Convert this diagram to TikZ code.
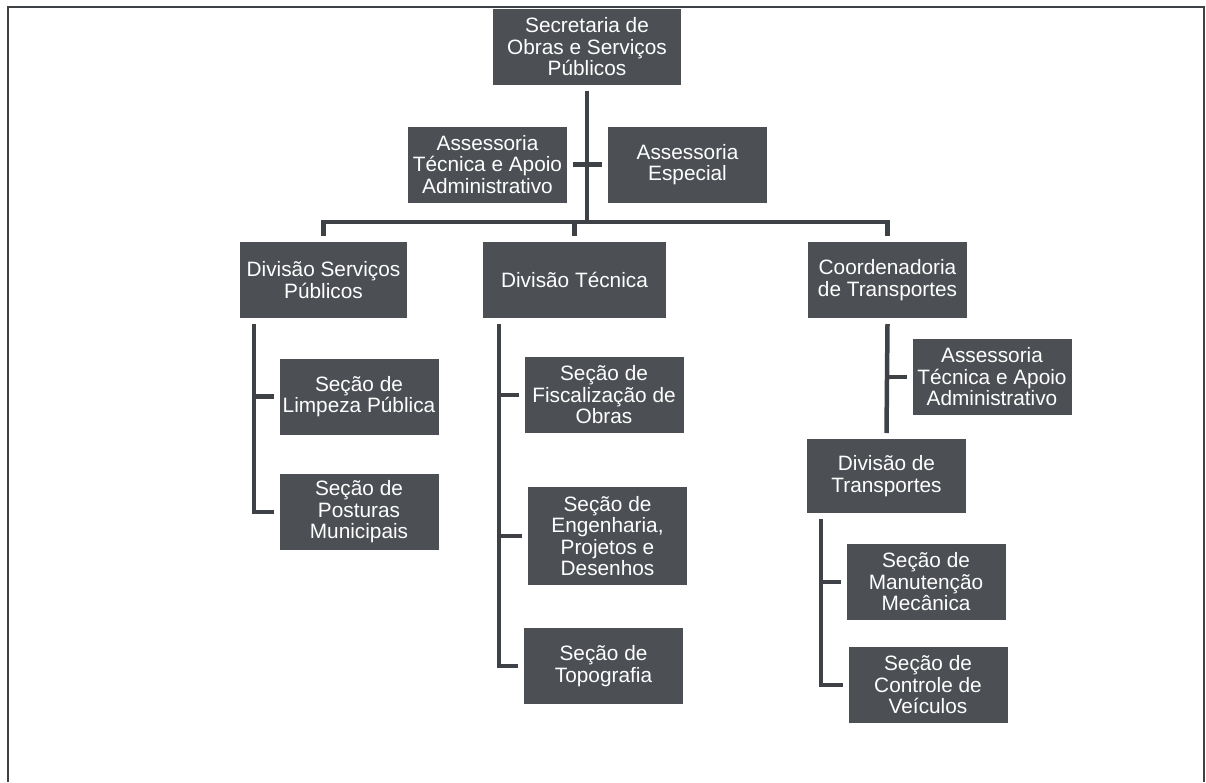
\documentclass[tikz,border=0pt]{standalone}
\usepackage{fontspec}
\setmainfont{Liberation Sans}
\definecolor{boxgray}{RGB}{76,79,84}
\definecolor{linegray}{RGB}{62,65,70}
\begin{document}
\begin{tikzpicture}[x=1pt, y=-1pt,
        orgbox/.style={rectangle, fill=boxgray, text=white, align=center,
            minimum width=159pt, minimum height=76pt, inner sep=2pt, outer sep=6pt,
            font=\fontsize{20.8}{21.5}\selectfont},
        link/.style={draw=linegray, line width=4.5pt}]
        \useasboundingbox (0,0) rectangle (1206,782);
        \draw[linegray, line width=1.6pt] (8,782) -- (8,7) -- (1204,7) -- (1204,782);

        \node[orgbox, minimum width=188pt] (sec) at (587, 47) {Secretaria de\\Obras e Serviços\\Públicos};
        \node[orgbox] (ata) at (487.5, 164.5) {Assessoria\\Técnica e Apoio\\Administrativo};
        \node[orgbox] (ae) at (687.5, 164.5) {Assessoria\\Especial};
        \node[orgbox, minimum width=167pt] (dsp) at (323.5, 280) {Divisão Serviços\\Públicos};
        \node[orgbox, minimum width=183pt] (dt) at (574.5, 280) {Divisão Técnica};
        \node[orgbox] (ct) at (887.5, 280) {Coordenadoria\\de Transportes};
        \node[orgbox] (slp) at (359, 396.5) {Seção de\\Limpeza Pública};
        \node[orgbox] (spm) at (359, 512) {Seção de\\Posturas\\Municipais};
        \node[orgbox] (sfo) at (604, 395) {Seção de\\Fiscalização de\\Obras};
        \node[orgbox, minimum height=98pt] (sep) at (607.5, 536) {Seção de\\Engenharia,\\Projetos e\\Desenhos};
        \node[orgbox] (stp) at (603.5, 666) {Seção de\\Topografia};
        \node[orgbox] (atc) at (992, 377) {Assessoria\\Técnica e Apoio\\Administrativo};
        \node[orgbox, minimum height=74pt] (dtr) at (886.5, 476) {Divisão de\\Transportes};
        \node[orgbox] (smm) at (926, 582) {Seção de\\Manutenção\\Mecânica};
        \node[orgbox] (scv) at (928, 685) {Seção de\\Controle de\\Veículos};

        % top level
        \coordinate (bus) at (587, 222);
        \draw[link] (sec.south) -- (bus);
        \draw[link] (ata.east) -- (ae.west);
        \draw[link] (dsp.north) |- (bus) -| (ct.north);
        \draw[link] (dt.north) -- (dt.north |- bus);

        % divisao servicos publicos
        \coordinate (dspb) at ([xshift=20pt]dsp.south west);
        \draw[link] (dspb) |- (slp.west);
        \draw[link] (dspb) |- (spm.west);

        % divisao tecnica
        \coordinate (dtb) at ([xshift=22pt]dt.south west);
        \draw[link] (dtb) |- (sfo.west);
        \draw[link] (dtb) |- (sep.west);
        \draw[link] (dtb) |- (stp.west);

        % coordenadoria de transportes
        \draw[link] (ct.south) -- (dtr.north);
        \draw[link] (ct.south |- atc.west) -- (atc.west);
        \coordinate (dtrb) at ([xshift=20pt]dtr.south west);
        \draw[link] (dtrb) |- (smm.west);
        \draw[link] (dtrb) |- (scv.west);

    \end{tikzpicture}
\end{document}
